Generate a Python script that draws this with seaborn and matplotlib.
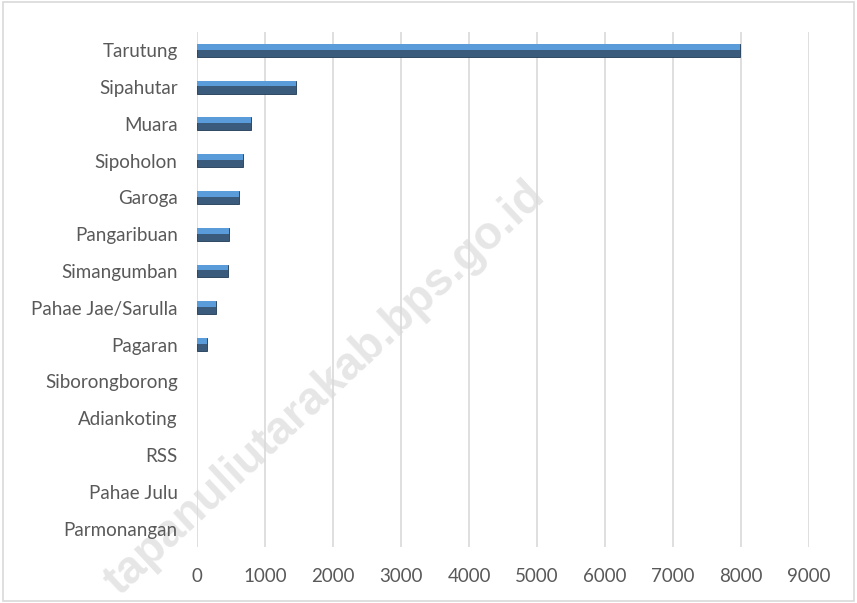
import matplotlib
matplotlib.use("Agg")
import matplotlib.pyplot as plt
import seaborn as sns
import pandas as pd
from matplotlib.patches import Rectangle

kecamatan = ["Tarutung", "Sipahutar", "Muara", "Sipoholon", "Garoga",
             "Pangaribuan", "Simangumban", "Pahae Jae/Sarulla", "Pagaran",
             "Siborongborong", "Adiankoting", "RSS", "Pahae Julu", "Parmonangan"]
jumlah = [7990, 1455, 790, 672, 617, 470, 450, 275, 142, 0, 0, 0, 0, 0]
x_ticks = [0, 1000, 2000, 3000, 4000, 5000, 6000, 7000, 8000, 9000]

df = pd.DataFrame({"Kecamatan": kecamatan, "Jumlah": jumlah})

sns.set_style("white")
plt.rcParams["font.family"] = ["Lato", "DejaVu Sans"]

fig = plt.figure(figsize=(8.57, 6.03), dpi=100)
ax = fig.add_axes([0.23, 0.093, 0.714, 0.854])
ax.set_facecolor("none")

sns.barplot(data=df, y="Kecamatan", x="Jumlah", orient="h", color="#2F5B86",
            width=0.35, edgecolor="#1F3A56", linewidth=0.6, ax=ax, zorder=3)

# lighter top half on each bar (bevel look); hide empty bars
for p in list(ax.patches):
    x0, y0 = p.get_x(), p.get_y()
    w, h = p.get_width(), p.get_height()
    if w <= 0:
        p.set_visible(False)
        continue
    ax.add_patch(Rectangle((x0, y0), w, h * 0.45, facecolor="#5A9BDA",
                           edgecolor="none", zorder=4))

ax.set_xlim(0, 9000)
ax.set_xticks(x_ticks)
ax.set_xticklabels([str(t) for t in x_ticks])
ax.xaxis.grid(True, color="#D9D9D9", linewidth=1.2, zorder=0)
ax.set_axisbelow(True)
for s in ax.spines.values():
    s.set_visible(False)
ax.set_xlabel("")
ax.set_ylabel("")
ax.tick_params(axis="both", length=0, labelsize=13.5, colors="#595959")
ax.tick_params(axis="y", pad=14)
ax.tick_params(axis="x", pad=15)

# watermark
fig.text(0.379, 0.356, "tapanuliutarakab.bps.go.id", rotation=43,
         fontsize=33, fontweight="bold", family="Liberation Sans",
         color="#E6E6E6", ha="center", va="center", zorder=-1)

fig.patches.append(Rectangle((0.003, 0.003), 0.994, 0.994, transform=fig.transFigure,
                             fill=False, edgecolor="#D9D9D9", linewidth=1.2))

fig.savefig("out.png", dpi=100)
